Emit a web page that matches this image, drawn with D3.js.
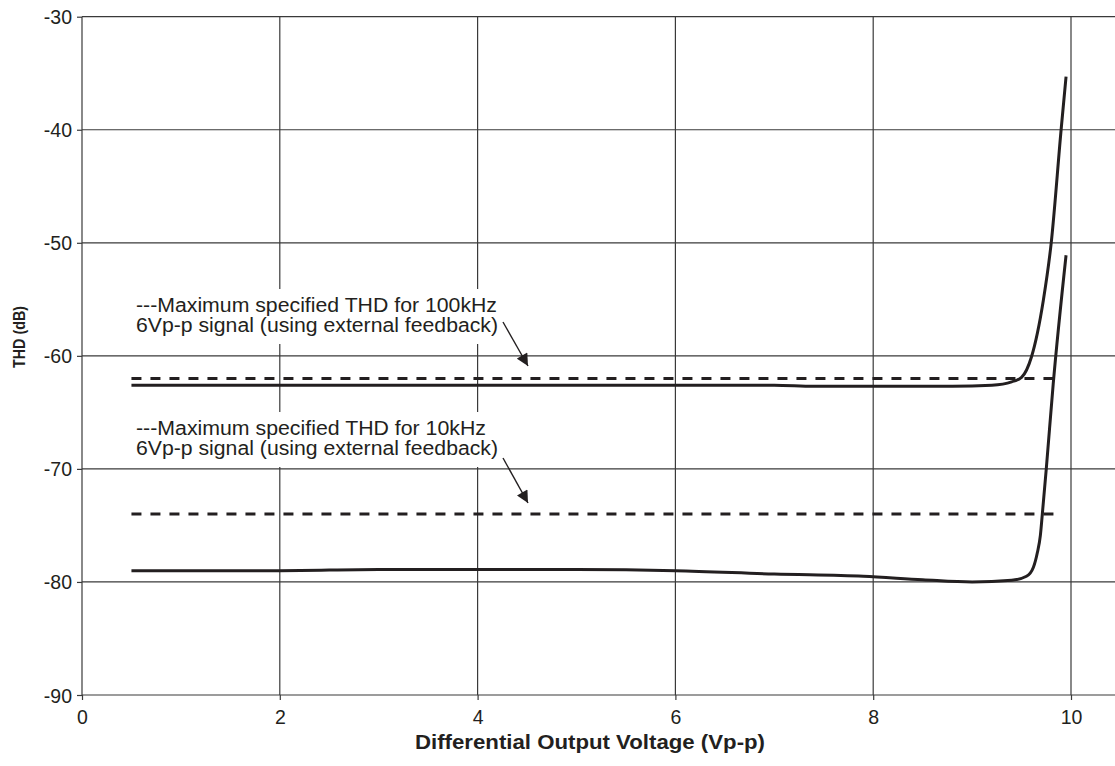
<!DOCTYPE html>
<html>
<head>
<meta charset="utf-8">
<script src="https://cdn.jsdelivr.net/npm/d3@7"></script>
<style>
  body { margin: 0; background: #fff; }
  text { font-family: "Liberation Sans", Arial, Helvetica, sans-serif; fill: #231f20; }
</style>
</head>
<body>
<div id="chart"></div>
<script>
// ... data

const xTicks = [0, 2, 4, 6, 8, 10];
const yTicks = [-30, -40, -50, -60, -70, -80, -90];

const voltage100k = [0.5, 2, 4, 6, 7, 7.4, 8, 8.8, 9.2, 9.4, 9.5, 9.6, 9.72, 9.8, 9.9, 9.95];
const thd100k = [-62.6, -62.6, -62.6, -62.6, -62.6, -62.7, -62.7, -62.7, -62.6, -62.3, -61.9, -60.1, -55.1, -50.0, -40.0, -35.3];

const voltage10k = [0.5, 2, 3, 4, 5, 6, 7, 7.9, 8.5, 9.0, 9.4, 9.55, 9.62, 9.66, 9.69, 9.71, 9.75, 9.82, 9.95];
const thd10k = [-79.0, -79.0, -78.9, -78.9, -78.9, -79.0, -79.3, -79.5, -79.8, -80.0, -79.85, -79.5, -78.7, -77.4, -75.9, -74.0, -70.0, -62.5, -51.1];

const limitVoltage = [0.5, 9.9];
const limit100k = -62;
const limit10k = -74;

const note100k = ['---Maximum specified THD for 100kHz', '6Vp-p signal (using external feedback)'];
const note10k = ['---Maximum specified THD for 10kHz', '6Vp-p signal (using external feedback)'];

const xTitle = 'Differential Output Voltage (Vp-p)';
const yTitle = 'THD (dB)';

// ... chart area

const W = 1115, H = 766;
const plotLeft = 82, plotRight = 1071, plotTop = 16.7, plotBottom = 695;
const ink = '#231f20';
const gridColor = '#3a3a3a';

const x = d3.scaleLinear().domain([0, 10]).range([plotLeft, plotRight]);
const y = d3.scaleLinear().domain([-90, -30]).range([plotBottom, plotTop]);

const svg = d3.select('#chart').append('svg')
    .attr('width', W)
    .attr('height', H);

// ... grid

svg.append('g')
    .selectAll('line')
    .data(yTicks)
    .join('line')
    .attr('x1', plotLeft)
    .attr('x2', W)
    .attr('y1', d => y(d))
    .attr('y2', d => y(d))
    .attr('stroke', gridColor)
    .attr('stroke-width', 1.2);

svg.append('g')
    .selectAll('line')
    .data(xTicks)
    .join('line')
    .attr('x1', d => x(d))
    .attr('x2', d => x(d))
    .attr('y1', plotTop)
    .attr('y2', plotBottom)
    .attr('stroke', gridColor)
    .attr('stroke-width', 1.2);

// ... axes (ticks + labels), plain hyphen for the minus sign

const xAxis = d3.axisBottom(x).tickValues(xTicks).tickSize(5).tickPadding(10).tickFormat(d => String(d));
const yAxis = d3.axisLeft(y).tickValues(yTicks).tickSize(5).tickPadding(5).tickFormat(d => String(d));

const gx = svg.append('g')
    .attr('transform', 'translate(0,' + plotBottom + ')')
    .call(xAxis);
const gy = svg.append('g')
    .attr('transform', 'translate(' + plotLeft + ',0)')
    .call(yAxis);

[gx, gy].forEach(g => {
    g.select('.domain').remove();
    g.selectAll('line').attr('stroke', gridColor).attr('stroke-width', 1.2);
    g.selectAll('text')
        .attr('fill', ink)
        .style('font-size', '19.5px')
        .style('font-family', '"Liberation Sans", Arial, sans-serif');
});
gy.selectAll('text').attr('dy', '0.36em');

// axis titles
svg.append('text')
    .attr('x', 590)
    .attr('y', 749)
    .attr('text-anchor', 'middle')
    .attr('textLength', 350)
    .attr('lengthAdjust', 'spacingAndGlyphs')
    .style('font-size', '20px')
    .style('font-weight', 'bold')
    .text(xTitle);

svg.append('text')
    .attr('transform', 'translate(25,337) rotate(-90)')
    .attr('text-anchor', 'middle')
    .attr('textLength', 62)
    .attr('lengthAdjust', 'spacingAndGlyphs')
    .style('font-size', '17px')
    .style('font-weight', 'bold')
    .text(yTitle);

// ... limit lines (dashed)

[limit100k, limit10k].forEach(v => {
    svg.append('line')
        .attr('x1', x(limitVoltage[0]))
        .attr('x2', x(limitVoltage[1]))
        .attr('y1', y(v))
        .attr('y2', y(v))
        .attr('stroke', ink)
        .attr('stroke-width', 3)
        .attr('stroke-dasharray', '10,9');
});

// ... measured curves

const line = d3.line()
    .x(d => x(d[0]))
    .y(d => y(d[1]))
    .curve(d3.curveMonotoneX);

[[voltage100k, thd100k], [voltage10k, thd10k]].forEach(([vs, ts]) => {
    svg.append('path')
        .datum(d3.zip(vs, ts))
        .attr('d', line)
        .attr('fill', 'none')
        .attr('stroke', ink)
        .attr('stroke-width', 3)
        .attr('stroke-linejoin', 'round');
});

// ... annotations with white boxes and arrows

svg.append('defs').append('marker')
    .attr('id', 'head')
    .attr('viewBox', '0 0 10 10')
    .attr('refX', 10)
    .attr('refY', 5)
    .attr('markerWidth', 14)
    .attr('markerHeight', 12)
    .attr('markerUnits', 'userSpaceOnUse')
    .attr('orient', 'auto')
    .append('path')
    .attr('d', 'M0,0 L10,5 L0,10 Z')
    .attr('fill', ink);

function note(lines, baseline, widths, arrowFrom, arrowTo) {
    const g = svg.append('g');
    g.append('rect')
        .attr('x', 130)
        .attr('y', baseline - 23)
        .attr('width', 372)
        .attr('height', 55)
        .attr('fill', '#fff');
    lines.forEach((t, i) => {
        g.append('text')
            .attr('x', 136)
            .attr('y', baseline + i * 20)
            .attr('textLength', widths[i])
            .attr('lengthAdjust', 'spacingAndGlyphs')
            .style('font-size', '20px')
            .text(t);
    });
    g.append('line')
        .attr('x1', arrowFrom[0])
        .attr('y1', arrowFrom[1])
        .attr('x2', arrowTo[0])
        .attr('y2', arrowTo[1])
        .attr('stroke', ink)
        .attr('stroke-width', 1.4)
        .attr('marker-end', 'url(#head)');
}

note(note100k, 312, [361, 362], [503, 322], [528, 366]);
note(note10k, 435, [350, 362], [503, 458], [528, 503]);
</script>
</body>
</html>
